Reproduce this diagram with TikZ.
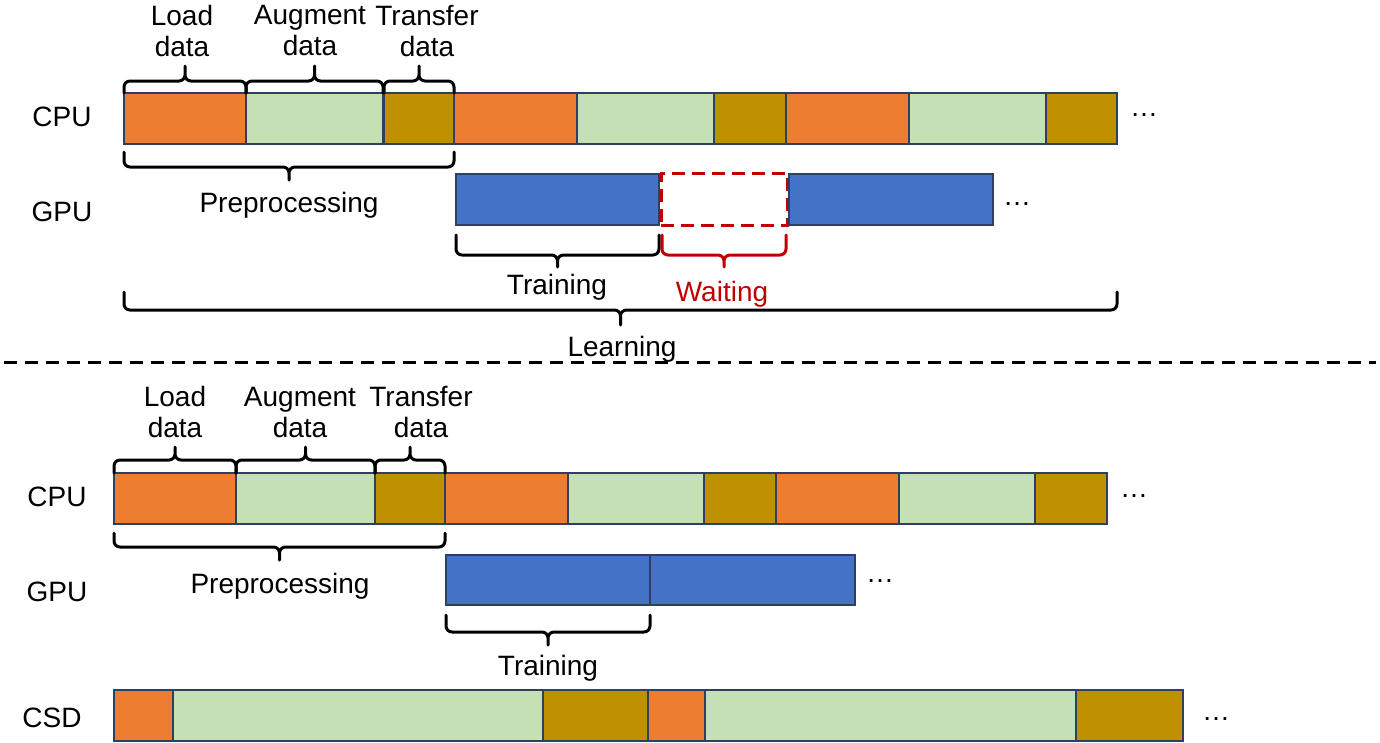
\documentclass[tikz,border=0pt]{standalone}
\usepackage{fontspec}
\setmainfont{Liberation Sans}
\usetikzlibrary{calc}
\definecolor{cor}{HTML}{ED7D31}
\definecolor{cgr}{HTML}{C5E0B4}
\definecolor{cgo}{HTML}{BF9000}
\definecolor{cbl}{HTML}{4472C4}
\definecolor{cred}{HTML}{C00000}
\definecolor{cedge}{HTML}{2F3F5F}
\tikzset{
  seg/.style={draw=cedge, line width=1.2pt, inner sep=0pt, outer sep=0pt, minimum height=51pt, anchor=north west},
  waitbox/.style={draw=cred, line width=3pt, dash pattern=on 13pt off 7pt, inner sep=0pt, outer sep=0pt, minimum height=52pt, anchor=north west},
  lab/.style={font=\fontsize{28}{31}\selectfont, align=center, inner sep=0pt},
  dots/.style={font=\fontsize{28}{31}\selectfont, inner sep=0pt, anchor=base west},
  bracestyle/.style={line width=3pt, rounded corners=6pt, line cap=round, line join=round},
  sepline/.style={line width=3pt, dash pattern=on 13pt off 8pt},
}
\newcommand\mybrace[6][]{%
  \draw[bracestyle,#1] let \p1=#2, \p2=#3 in
    (\x1,\y1) -- ({\x1},{\y1-(#4)*1pt}) -- ({(\x1+\x2)/2},{\y1-(#4)*1pt}) -- ({(\x1+\x2)/2},{\y1-(#5)*1pt}) coordinate (#6)
    (\x2,\y2) -- ({\x2},{\y2-(#4)*1pt}) -- ({(\x1+\x2)/2},{\y2-(#4)*1pt}) -- ({(\x1+\x2)/2},{\y2-(#5)*1pt});
}
\begin{document}
\begin{tikzpicture}[x=1pt,y=-1pt]
\useasboundingbox (0,0) rectangle (1380,742);
% ---------- top ----------
\node[lab] (cpu1) at (62,117) {CPU};
\node[lab] (gpu1) at (62,212) {GPU};
\node[seg, fill=cor, minimum width=122pt] (a1) at (124,93) {};
\node[seg, fill=cgr, minimum width=137pt] (a2) at (246,93) {};
\node[seg, fill=cgo, minimum width=70pt]  (a3) at (384,93) {};
\node[seg, fill=cor, minimum width=123pt] (a4) at (454,93) {};
\node[seg, fill=cgr, minimum width=137pt] (a5) at (577,93) {};
\node[seg, fill=cgo, minimum width=72pt]  (a6) at (714,93) {};
\node[seg, fill=cor, minimum width=123pt] (a7) at (786,93) {};
\node[seg, fill=cgr, minimum width=137pt] (a8) at (909,93) {};
\node[seg, fill=cgo, minimum width=71pt]  (a9) at (1046,93) {};
\node[dots] (d1) at (1130,116) {…};
\node[seg, fill=cbl, minimum width=203pt] (g1) at (456,174) {};
\node[waitbox, minimum width=126pt] (w1) at (661,173) {};
\node[seg, fill=cbl, minimum width=204pt] (g2) at (789,174) {};
\node[dots] (d2) at (1003,205) {…};
\mybrace{(a1.north west)}{(a1.north east)}{-12}{-27}{t1}
\mybrace{(a2.north west)}{(a2.north east)}{-12}{-27}{t2}
\mybrace{(a3.north west)}{(a3.north east)}{-12}{-27}{t3}
\node[lab] (l1) at (182,31) {Load\\data};
\node[lab] (l2) at (310,31) {Augment\\data};
\node[lab] (l3) at (427,31) {Transfer\\data};
\mybrace{($(a1.south west)+(0,8)$)}{($(a3.south east)+(0,8)$)}{15}{28}{t4}
\node[lab] (pre1) at (289,205) {Preprocessing};
\mybrace{($(g1.south west)+(0,10)$)}{($(g1.south east)+(0,10)$)}{20}{32}{t5}
\node[lab] (tr1) at (557,287) {Training};
\mybrace[cred]{($(w1.south west)+(1,10)$)}{($(w1.south east)+(-1,10)$)}{20}{32}{t6}
\node[lab, text=cred] (wt1) at (722,294) {Waiting};
\mybrace{($(a1.south west)+(0,148)$)}{($(a9.south east)+(0,148)$)}{18}{33}{t7}
\node[lab] (le1) at (622,349) {Learning};
% separator
\coordinate (sl) at (4,362);
\coordinate (sr) at (1376,362);
\draw[sepline] (sl) -- (sr);
% ---------- bottom ----------
\node[lab] (cpu2) at (57,497) {CPU};
\node[lab] (gpu2) at (57,592) {GPU};
\node[lab] (csd) at (52,718) {CSD};
\node[seg, fill=cor, minimum width=122pt] (b1) at (114,473) {};
\node[seg, fill=cgr, minimum width=139pt] (b2) at (236,473) {};
\node[seg, fill=cgo, minimum width=70pt]  (b3) at (375,473) {};
\node[seg, fill=cor, minimum width=123pt] (b4) at (445,473) {};
\node[seg, fill=cgr, minimum width=136pt] (b5) at (568,473) {};
\node[seg, fill=cgo, minimum width=72pt]  (b6) at (704,473) {};
\node[seg, fill=cor, minimum width=123pt] (b7) at (776,473) {};
\node[seg, fill=cgr, minimum width=136pt] (b8) at (899,473) {};
\node[seg, fill=cgo, minimum width=72pt]  (b9) at (1035,473) {};
\node[dots] (d3) at (1120,497) {…};
\node[seg, fill=cbl, minimum width=204pt, minimum height=50pt] (h1) at (446,555) {};
\node[seg, fill=cbl, minimum width=205pt, minimum height=50pt] (h2) at (650,555) {};
\node[dots] (d4) at (866,582) {…};
\node[seg, fill=cor, minimum width=59pt]  (s1) at (114,690) {};
\node[seg, fill=cgr, minimum width=370pt] (s2) at (173,690) {};
\node[seg, fill=cgo, minimum width=105pt] (s3) at (543,690) {};
\node[seg, fill=cor, minimum width=57pt]  (s4) at (648,690) {};
\node[seg, fill=cgr, minimum width=371pt] (s5) at (705,690) {};
\node[seg, fill=cgo, minimum width=107pt] (s6) at (1076,690) {};
\node[dots] (d5) at (1202,720) {…};
\mybrace{(b1.north west)}{(b1.north east)}{-13}{-26}{u1}
\mybrace{(b2.north west)}{(b2.north east)}{-13}{-26}{u2}
\mybrace{(b3.north west)}{(b3.north east)}{-13}{-26}{u3}
\node[lab] (m1) at (175,412) {Load\\data};
\node[lab] (m2) at (300,412) {Augment\\data};
\node[lab] (m3) at (421,412) {Transfer\\data};
\mybrace{($(b1.south west)+(0,9)$)}{($(b3.south east)+(0,9)$)}{14}{27}{u4}
\node[lab] (pre2) at (280,586) {Preprocessing};
\mybrace{($(h1.south west)+(0,10)$)}{($(h1.south east)+(0,10)$)}{17}{30}{u5}
\node[lab] (tr2) at (548,668) {Training};
\end{tikzpicture}
\end{document}
